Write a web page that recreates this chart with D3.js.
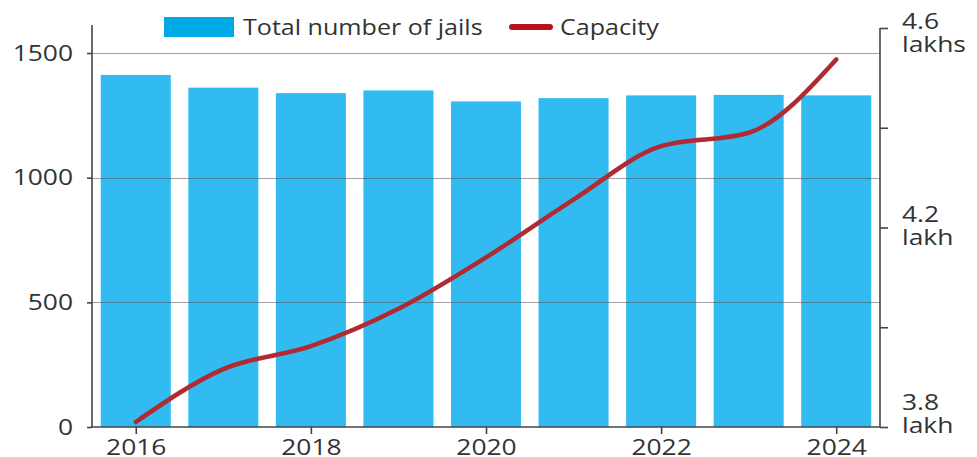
<!DOCTYPE html>
<html>
<head>
<meta charset="utf-8">
<script src="https://cdn.jsdelivr.net/npm/d3@7"></script>
<style>
  body { margin: 0; background: #fff; }
  svg text { font-family: "Open Sans", "Noto Sans", sans-serif; fill: #333; }
</style>
</head>
<body>
<svg id="chart" width="977" height="457"></svg>
<script>
// data
const years      = [2016, 2017, 2018, 2019, 2020, 2021, 2022, 2023, 2024];
const jails      = [1412, 1361, 1339, 1350, 1306, 1319, 1330, 1332, 1330];
const capacity   = [3.81, 3.916, 3.962, 4.037, 4.14, 4.256, 4.363, 4.39, 4.537]; // lakh
const leftTicks  = [0, 500, 1000, 1500];
const rightTicks = [3.8, 4.0, 4.2, 4.4, 4.6];
const rightLabels = { 4.6: ['4.6', 'lakhs'], 4.2: ['4.2', 'lakh'], 3.8: ['3.8', 'lakh'] };
const xTickYears = [2016, 2018, 2020, 2022, 2024];

const LEFT = 92, RIGHT = 880, BOTTOM = 427;
const FS = 22, STRETCH = 1.2;   // the source font is drawn wide
const barColor = '#31bbf1';
const lineColor = '#b12a33';

const svg = d3.select('#chart');

const x = d3.scaleBand().domain(years).range([LEFT, RIGHT]).paddingInner(0.2).paddingOuter(0.1);
const y = d3.scaleLinear().domain([0, 1500]).range([BOTTOM, 53]);
const y2 = d3.scaleLinear().domain([3.8, 4.6]).range([BOTTOM, 28]);

// widen a text around its own anchor x
function stretch(sel, k = STRETCH) {
  sel.each(function() {
    const ax = +this.getAttribute('x') || 0;
    this.setAttribute('transform', `translate(${ax},0) scale(${k},1) translate(${-ax},0)`);
  });
}

// bars
svg.append('g').selectAll('rect')
    .data(years)
    .join('rect')
    .attr('x', d => x(d))
    .attr('width', x.bandwidth())
    .attr('y', (d, i) => y(jails[i]))
    .attr('height', (d, i) => BOTTOM - y(jails[i]))
    .attr('fill', barColor);

// gridlines over the bars
svg.append('g').selectAll('line')
    .data(leftTicks.filter(t => t > 0))
    .join('line')
    .attr('x1', LEFT).attr('x2', RIGHT)
    .attr('y1', d => Math.round(y(d)) + 0.5).attr('y2', d => Math.round(y(d)) + 0.5)
    .attr('stroke', '#555').attr('stroke-opacity', 0.55).attr('stroke-width', 1.2);

// left axis
const leftAxis = svg.append('g')
    .attr('transform', `translate(${LEFT},0)`)
    .call(d3.axisLeft(y).tickValues(leftTicks).tickSize(5).tickPadding(14).tickFormat(d3.format('d')));
leftAxis.select('.domain').attr('d', `M0,25V${BOTTOM}`);
leftAxis.selectAll('line, path').attr('stroke', '#444').attr('stroke-width', 1.6);
leftAxis.selectAll('text').attr('font-size', FS).attr('fill', '#333').call(stretch);

// bottom axis
const xPos = d3.scaleLinear().domain([2016, 2024]).range([x(2016) + x.bandwidth() / 2, x(2024) + x.bandwidth() / 2]);
const bottomAxis = svg.append('g')
    .attr('transform', `translate(0,${BOTTOM})`)
    .call(d3.axisBottom(xPos).tickValues(xTickYears).tickSize(7).tickPadding(6).tickFormat(d3.format('d')));
bottomAxis.select('.domain').attr('d', `M${LEFT},0H${RIGHT}`);
bottomAxis.selectAll('line, path').attr('stroke', '#444').attr('stroke-width', 1.6);
bottomAxis.selectAll('text').attr('font-size', FS).attr('fill', '#333').attr('dy', '0.68em').call(stretch);

// right axis
const rightAxis = svg.append('g')
    .attr('transform', `translate(${RIGHT},0)`)
    .call(d3.axisRight(y2).tickValues(rightTicks).tickSize(8).tickFormat(''));
rightAxis.select('.domain').attr('d', `M0,${y2(4.6)}V${BOTTOM}`);
rightAxis.selectAll('line, path').attr('stroke', '#444').attr('stroke-width', 1.6);

// two-line labels, first baseline offset from the tick
const labelOffset = { 4.6: 1, 4.2: -5, 3.8: -17 };
const rl = svg.append('g');
rightTicks.filter(t => rightLabels[t]).forEach(t => {
  const [a, b] = rightLabels[t];
  const lx = RIGHT + 22;
  rl.append('text').attr('x', lx).attr('y', y2(t) + labelOffset[t]).attr('font-size', FS).text(a).call(stretch);
  rl.append('text').attr('x', lx).attr('y', y2(t) + labelOffset[t] + 23).attr('font-size', FS).text(b).call(stretch);
});

// capacity line
const line = d3.line()
    .x((d, i) => x(years[i]) + x.bandwidth() / 2)
    .y(d => y2(d))
    .curve(d3.curveMonotoneX);
svg.append('path')
    .datum(capacity)
    .attr('d', line)
    .attr('fill', 'none')
    .attr('stroke', lineColor)
    .attr('stroke-width', 4.5)
    .attr('stroke-linecap', 'round');

// legend
const lg = svg.append('g');
lg.append('rect').attr('x', 164).attr('y', 17).attr('width', 70).attr('height', 20).attr('fill', '#00a9e6');
lg.append('text').attr('x', 243).attr('y', 35).attr('font-size', FS).text('Total number of jails').call(stretch, 1.14);
lg.append('line').attr('x1', 512).attr('x2', 550).attr('y1', 27).attr('y2', 27)
    .attr('stroke', '#b5121b').attr('stroke-width', 6).attr('stroke-linecap', 'round');
lg.append('text').attr('x', 560).attr('y', 35).attr('font-size', FS).text('Capacity').call(stretch, 1.14);
</script>
</body>
</html>
